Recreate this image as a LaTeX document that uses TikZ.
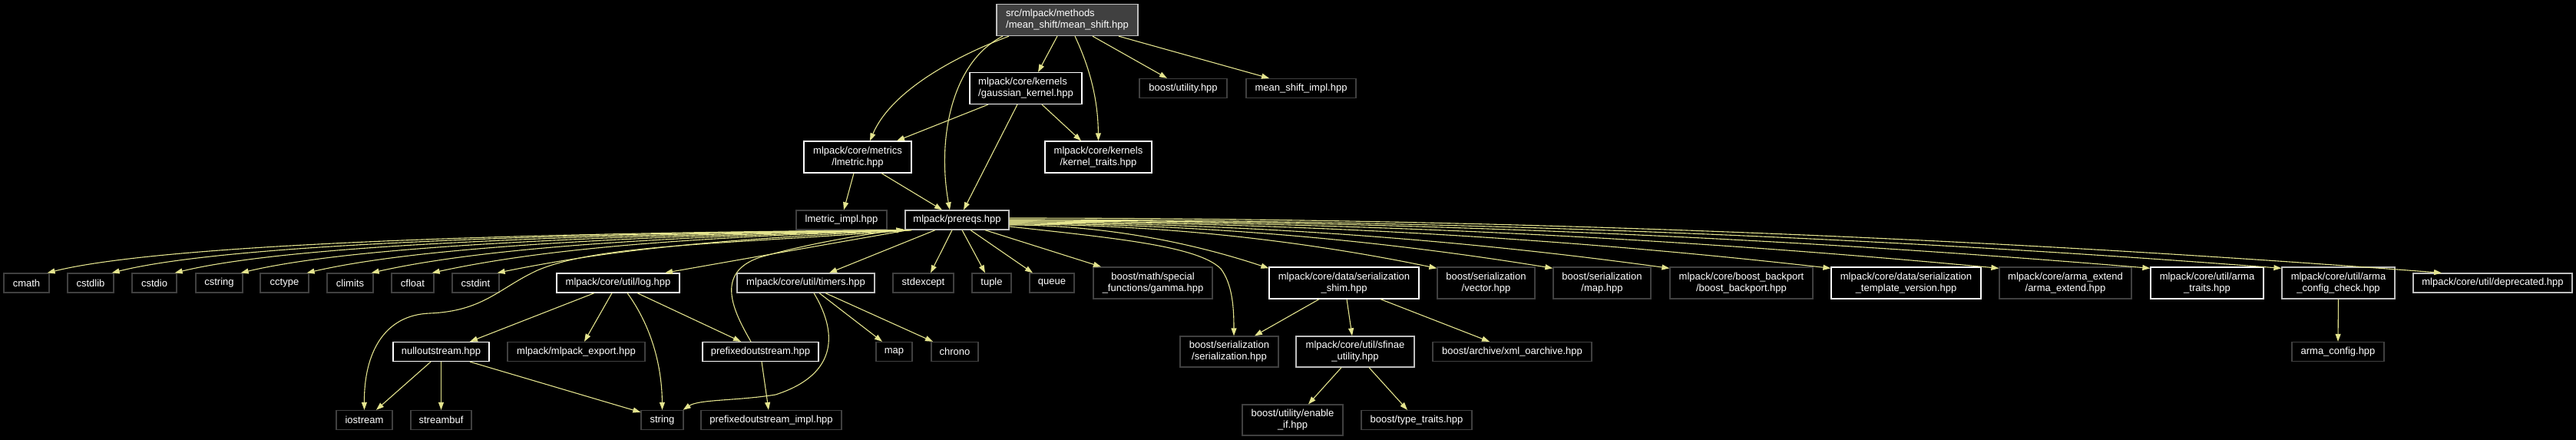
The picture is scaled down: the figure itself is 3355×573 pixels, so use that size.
\documentclass[tikz,border=0pt]{standalone}
\usepackage{fontspec}
\setmainfont{Liberation Sans}
\usetikzlibrary{arrows.meta}
\definecolor{edgec}{RGB}{228,228,142}
\definecolor{undb}{RGB}{64,64,64}
\definecolor{grayb}{RGB}{191,191,191}
\definecolor{rootf}{RGB}{64,64,64}
\begin{document}
\begin{tikzpicture}[x=1bp,y=-1bp,
 box/.style={rectangle, inner sep=0pt, line width=1.3bp, text=white, font=\fontsize{13bp}{15bp}\selectfont, align=center},
 doc/.style={box, draw=white},
 gry/.style={box, draw=grayb},
 und/.style={box, draw=undb},
 rootbox/.style={box, draw=grayb, fill=rootf, align=left},
 one/.style={minimum height=25bp},
 two/.style={minimum height=41bp},
 conn/.style={draw=edgec, line width=1.1bp, -{Triangle[length=10bp,width=7bp]}}
]
\fill[black] (0,0) rectangle (3355,573);
\useasboundingbox (0,0) rectangle (3355,573);

% top part
\node[rootbox, minimum width=184bp, two] (root) at (1390,26) {src/mlpack/methods\\/mean\_shift/mean\_shift.hpp};
\node[doc, align=left, minimum width=146bp, two] (gauss) at (1336,115) {mlpack/core/kernels\\/gaussian\_kernel.hpp};
\node[und, minimum width=114bp, one] (butil) at (1541,115) {boost/utility.hpp};
\node[und, minimum width=143bp, one] (msimpl) at (1694.5,115) {mean\_shift\_impl.hpp};
\node[doc, minimum width=140bp, two] (lmetric) at (1117,204.5) {mlpack/core/metrics\\/lmetric.hpp};
\node[doc, minimum width=139bp, two] (ktraits) at (1430.5,204.5) {mlpack/core/kernels\\/kernel\_traits.hpp};
\node[und, minimum width=118bp, one] (lmimpl) at (1096,286.5) {lmetric\_impl.hpp};
\node[gry, minimum width=135bp, one] (prereqs) at (1246.5,286.5) {mlpack/prereqs.hpp};

% row 2 single-line
\node[und, minimum width=59bp, one] (cmath) at (34.5,368.5) {cmath};
\node[und, minimum width=60bp, one] (cstdlib) at (118,368.5) {cstdlib};
\node[und, minimum width=58bp, one] (cstdio) at (201,368.5) {cstdio};
\node[und, minimum width=61bp, one] (cstring) at (285.5,368.5) {cstring};
\node[und, minimum width=63bp, one] (cctype) at (370.5,368.5) {cctype};
\node[und, minimum width=60bp, one] (climits) at (456,368.5) {climits};
\node[und, minimum width=55bp, one] (cfloat) at (537.5,368.5) {cfloat};
\node[und, minimum width=61bp, one] (cstdint) at (619.5,368.5) {cstdint};
\node[doc, minimum width=160bp, one] (log) at (805,368.5) {mlpack/core/util/log.hpp};
\node[gry, minimum width=179bp, one] (timers) at (1049.5,368.5) {mlpack/core/util/timers.hpp};
\node[und, minimum width=79bp, one] (stdexcept) at (1202.5,368.5) {stdexcept};
\node[und, minimum width=51bp, one] (tuple) at (1291.5,368.5) {tuple};
\node[und, minimum width=58bp, one] (queue) at (1370,368.5) {queue};
\node[gry, minimum width=207bp, one] (deprecated) at (3246.5,368.5) {mlpack/core/util/deprecated.hpp};

% row 2 two-line
\node[und, minimum width=155bp, two] (gamma) at (1501.5,368.5) {boost/math/special\\\_functions/gamma.hpp};
\node[doc, minimum width=195bp, two] (shim) at (1750.5,368.5) {mlpack/core/data/serialization\\\_shim.hpp};
\node[und, minimum width=127bp, two] (vector) at (1935.5,368.5) {boost/serialization\\/vector.hpp};
\node[und, minimum width=127bp, two] (bmap) at (2086.5,368.5) {boost/serialization\\/map.hpp};
\node[und, minimum width=186bp, two] (backport) at (2268,368.5) {mlpack/core/boost\_backport\\/boost\_backport.hpp};
\node[doc, minimum width=195bp, two] (tmplver) at (2482.5,368.5) {mlpack/core/data/serialization\\\_template\_version.hpp};
\node[und, minimum width=172bp, two] (armaext) at (2690,368.5) {mlpack/core/arma\_extend\\/arma\_extend.hpp};
\node[doc, minimum width=147bp, two] (armatraits) at (2874.5,368.5) {mlpack/core/util/arma\\\_traits.hpp};
\node[gry, minimum width=147bp, two] (armacfgchk) at (3045.5,368.5) {mlpack/core/util/arma\\\_config\_check.hpp};

% row 3
\node[doc, minimum width=125bp, one] (nullout) at (574.5,458) {nulloutstream.hpp};
\node[und, minimum width=179bp, one] (export) at (750.5,458) {mlpack/mlpack\_export.hpp};
\node[doc, minimum width=151bp, one] (prefixed) at (990.5,458) {prefixedoutstream.hpp};
\node[und, minimum width=47bp, one] (map) at (1164.5,458) {map};
\node[und, minimum width=61bp, one] (chrono) at (1243.5,458) {chrono};
\node[und, minimum width=128bp, minimum height=40bp] (sertop) at (1601,458) {boost/serialization\\/serialization.hpp};
\node[gry, minimum width=154bp, minimum height=40bp] (sfinae) at (1765,458) {mlpack/core/util/sfinae\\\_utility.hpp};
\node[und, minimum width=207bp, one] (xml) at (1969.5,458) {boost/archive/xml\_oarchive.hpp};
\node[und, minimum width=120bp, one] (armacfg) at (3045,458) {arma\_config.hpp};

% row 4
\node[und, minimum width=73bp, one] (iostream) at (474.5,547) {iostream};
\node[und, minimum width=79bp, one] (streambuf) at (574.5,547) {streambuf};
\node[und, minimum width=55bp, one] (string) at (862.5,547) {string};
\node[und, minimum width=183bp, one] (prefimpl) at (1004.5,547) {prefixedoutstream\_impl.hpp};
\node[und, minimum width=131bp, minimum height=40bp] (enableif) at (1683.5,547) {boost/utility/enable\\\_if.hpp};
\node[und, minimum width=144bp, one] (typetraits) at (1845,547) {boost/type\_traits.hpp};

% edges from root
\draw[conn] ([xshift=-13bp]root.south) -- ([xshift=16bp]gauss.north);
\draw[conn] ([xshift=-76bp]root.south) .. controls (1240,75) and (1160,120) .. ([xshift=16bp]lmetric.north);
\draw[conn] ([xshift=-84bp]root.south) .. controls (1240,80) and (1220,180) .. ([xshift=-9.5bp]prereqs.north);
\draw[conn] ([xshift=10bp]root.south) .. controls (1420,90) and (1430,130) .. (ktraits.north);
\draw[conn] ([xshift=33bp]root.south) -- ([xshift=-21bp]butil.north);
\draw[conn] ([xshift=67bp]root.south) -- ([xshift=-41.5bp]msimpl.north);
\draw[conn] ([xshift=-49bp]gauss.south) -- ([xshift=51bp]lmetric.north);
\draw[conn] ([xshift=-11bp]gauss.south) -- ([xshift=8.5bp]prereqs.north);
\draw[conn] ([xshift=21bp]gauss.south) -- ([xshift=-22.5bp]ktraits.north);
\draw[conn] ([xshift=-5bp]lmetric.south) -- ([xshift=3bp]lmimpl.north);
\draw[conn] ([xshift=31bp]lmetric.south) -- ([xshift=-19.5bp]prereqs.north);

% prereqs downward
\draw[conn] ([xshift=-28.5bp]prereqs.south) -- ([xshift=30.5bp]timers.north);
\draw[conn] ([xshift=-6.5bp]prereqs.south) -- ([xshift=9.5bp]stdexcept.north);
\draw[conn] ([xshift=6.5bp]prereqs.south) -- ([xshift=-8.5bp]tuple.north);
\draw[conn] ([xshift=17.5bp]prereqs.south) -- ([xshift=-25bp]queue.north);
\draw[conn] ([xshift=36.5bp]prereqs.south) -- ([xshift=-67.5bp]gamma.north);
\draw[conn] ([xshift=4bp]prereqs.south west) -- ([xshift=61bp]log.north);
\draw[conn] ([xshift=9bp]prereqs.south west) .. controls (950,318) and (780,318) .. (700,352) .. controls (650,375) and (630,405) .. (560,408) .. controls (500,410) and (474,460) .. (iostream.north);
\draw[conn] ([xshift=-12.5bp]prefixed.north) .. controls (955,405) and (930,355) .. (990,335) .. controls (1050,318) and (1120,306) .. ([xshift=-1bp,yshift=1bp]prereqs.south west);

% prereqs left bundle
\draw[conn] ([xshift=2bp]prereqs.south west) .. controls (676,303) and (211,318) .. ([xshift=-3bp]cmath.north east);
\draw[conn] ([xshift=3bp]prereqs.south west) .. controls (714,304) and (295,318) .. ([xshift=-3bp]cstdlib.north east);
\draw[conn] ([xshift=4bp]prereqs.south west) .. controls (751,305) and (377,319) .. ([xshift=-3bp]cstdio.north east);
\draw[conn] ([xshift=5bp]prereqs.south west) .. controls (789,306) and (463,320) .. ([xshift=-3bp]cstring.north east);
\draw[conn] ([xshift=6bp]prereqs.south west) .. controls (828,307) and (549,321) .. ([xshift=-3bp]cctype.north east);
\draw[conn] ([xshift=7bp]prereqs.south west) .. controls (866,308) and (633,322) .. ([xshift=-3bp]climits.north east);
\draw[conn] ([xshift=8bp]prereqs.south west) .. controls (901,309) and (712,323) .. ([xshift=-3bp]cfloat.north east);
\draw[conn] ([xshift=9bp]prereqs.south west) .. controls (940,311) and (797,325) .. ([xshift=-3bp]cstdint.north east);

% prereqs right bundle
\draw[conn] ([yshift=-8.5bp]prereqs.east) .. controls (1450,310) and (1560,320) .. (1590,350) .. controls (1605,370) and (1607,400) .. ([xshift=6bp]sertop.north);
\draw[conn] ([yshift=-6.5bp]prereqs.east) .. controls (1427,293) and (1540,312) .. ([yshift=-2bp]shim.north west);
\draw[conn] ([yshift=-5.5bp]prereqs.east) .. controls (1500,292) and (1686,311) .. ([yshift=-2bp]vector.north west);
\draw[conn] ([yshift=-4.5bp]prereqs.east) .. controls (1550,291) and (1787,311) .. ([yshift=-2bp]bmap.north west);
\draw[conn] ([yshift=-3.5bp]prereqs.east) .. controls (1601,290) and (1888,310) .. ([yshift=-2bp]backport.north west);
\draw[conn] ([yshift=-2.5bp]prereqs.east) .. controls (1671,289) and (2028,309) .. ([yshift=-2bp]tmplver.north west);
\draw[conn] ([yshift=-1.5bp]prereqs.east) .. controls (1744,288) and (2174,309) .. ([yshift=-2bp]armaext.north west);
\draw[conn] ([yshift=-0.5bp]prereqs.east) .. controls (1810,287) and (2305,308) .. ([yshift=-2bp]armatraits.north west);
\draw[conn] ([yshift=0.5bp]prereqs.east) .. controls (1867,286) and (2419,307) .. ([yshift=-2bp]armacfgchk.north west);
\draw[conn] ([yshift=2.5bp]prereqs.east) .. controls (1936,284) and (2558,308) .. ([xshift=-66.5bp]deprecated.north);

% log, nulloutstream, prefixedoutstream, timers
\draw[conn] ([xshift=-31bp]log.south) -- ([xshift=37.5bp]nullout.north);
\draw[conn] ([xshift=-8bp]log.south) -- ([xshift=10.5bp]export.north);
\draw[conn] ([xshift=12bp]log.south) .. controls (845,420) and (862,470) .. (string.north);
\draw[conn] ([xshift=25bp]log.south) -- ([xshift=-25.5bp]prefixed.north);
\draw[conn] ([xshift=-13.5bp]nullout.south) -- ([xshift=15.5bp]iostream.north);
\draw[conn] (nullout.south) -- (streambuf.north);
\draw[conn] ([xshift=37.5bp]nullout.south) -- ([yshift=-3bp]string.north west);
\draw[conn] ([xshift=1.5bp]prefixed.south) -- ([xshift=-3.5bp]prefimpl.north);
\draw[conn] ([xshift=10.5bp]timers.south) .. controls (1095,440) and (1085,490) .. (1010,514) .. controls (960,522) and (910,520) .. ([xshift=-1bp]string.north east);
\draw[conn] ([xshift=17.5bp]timers.south) -- ([xshift=-15.5bp]map.north);
\draw[conn] ([xshift=25.5bp]timers.south) -- ([xshift=-28.5bp]chrono.north);

% serialization shim etc.
\draw[conn] ([xshift=-32.5bp]shim.south) -- ([xshift=33bp]sertop.north);
\draw[conn] ([xshift=3.5bp]shim.south) -- ([xshift=-4bp]sfinae.north);
\draw[conn] ([xshift=47.5bp]shim.south) -- ([xshift=-29.5bp]xml.north);
\draw[conn] ([xshift=-18bp]sfinae.south) -- ([xshift=20.5bp]enableif.north);
\draw[conn] ([xshift=18bp]sfinae.south) -- ([xshift=-12bp]typetraits.north);
\draw[conn] (armacfgchk.south) -- (armacfg.north);
\end{tikzpicture}
\end{document}
